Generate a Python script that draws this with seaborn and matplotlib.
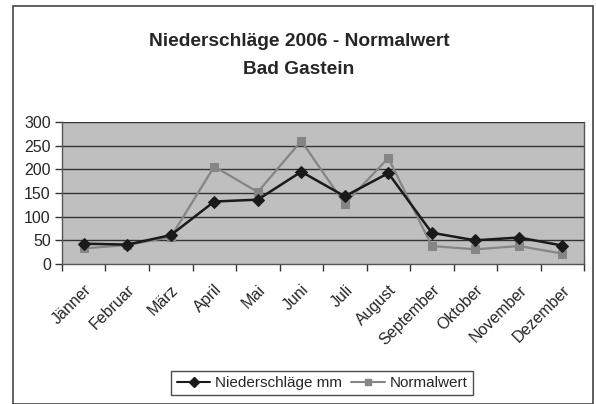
import matplotlib
matplotlib.use("Agg")
import matplotlib.pyplot as plt
import matplotlib.transforms as mtransforms
from matplotlib.patches import Rectangle
from matplotlib.lines import Line2D
import seaborn as sns
import pandas as pd
import numpy as np

months = ["Jänner", "Februar", "März", "April", "Mai", "Juni", "Juli",
          "August", "September", "Oktober", "November", "Dezember"]
niederschlaege = [43, 41, 61, 132, 136, 195, 143, 192, 66, 50, 56, 39]
normalwert = [33, 40, 57, 206, 152, 260, 127, 224, 38, 31, 38, 22]
yticks = [0, 50, 100, 150, 200, 250, 300]
title_lines = ["Niederschläge 2006 - Normalwert", "Bad Gastein"]
series_names = ["Niederschläge mm", "Normalwert"]

sns.set_theme(style="white")
plt.rcParams["font.family"] = ["Liberation Sans", "DejaVu Sans"]

df = pd.DataFrame({"Monat": months, series_names[0]: niederschlaege,
                   series_names[1]: normalwert})
df["pos"] = np.arange(len(months))

fig = plt.figure(figsize=(5.96, 4.04), dpi=100)
fig.patch.set_facecolor("white")
ax = fig.add_axes([0.104, 0.3465, 0.876, 0.3515])
ax.set_facecolor("#bfbfbf")

sns.lineplot(data=df, x="pos", y=series_names[1], ax=ax, color="#858585",
             marker="s", markersize=6, markeredgecolor="#858585", linewidth=1.6,
             label=series_names[1])
sns.lineplot(data=df, x="pos", y=series_names[0], ax=ax, color="#1a1a1a",
             marker="D", markersize=6, markeredgecolor="#1a1a1a", linewidth=1.8,
             label=series_names[0])

ax.set_ylim(0, 300)
ax.set_xlim(-0.5, len(months) - 0.5)
ax.set_yticks(yticks)
ax.set_yticklabels([str(v) for v in yticks], fontsize=11.5)
for v in yticks[1:]:
    ax.axhline(v, color="#333333", linewidth=1.0, zorder=0.5)

ax.set_xticks(np.arange(len(months)))
ax.set_xticklabels(months, rotation=45, ha="right", rotation_mode="anchor", fontsize=11.5)
offset = mtransforms.ScaledTranslation(-4 / 100, 0, fig.dpi_scale_trans)
for lbl in ax.get_xticklabels():
    lbl.set_transform(lbl.get_transform() + offset)
ax.set_xticks(np.arange(-0.5, len(months), 1.0), minor=True)
ax.tick_params(axis="x", which="major", length=0, pad=13)
ax.tick_params(axis="x", which="minor", length=5, width=1, color="#333333", direction="out", bottom=True)
ax.tick_params(axis="y", which="major", length=5, width=1, color="#333333", direction="out", left=True, pad=3)
ax.set_xlabel("")
ax.set_ylabel("")
for side in ["left", "bottom", "right", "top"]:
    ax.spines[side].set_color("#555555")
    ax.spines[side].set_linewidth(1.0)
ax.spines["top"].set_visible(False)

fig.text(299 / 596, 1 - 42 / 404, title_lines[0], ha="center", va="center",
         fontsize=13.8, fontweight="bold")
fig.text(299 / 596, 1 - 69 / 404, title_lines[1], ha="center", va="center",
         fontsize=13.8, fontweight="bold")

handles = [Line2D([], [], color="#1a1a1a", marker="D", markersize=5, linewidth=1.5),
           Line2D([], [], color="#858585", marker="s", markersize=5, linewidth=1.5)]
ax.get_legend().remove()
leg = fig.legend(handles, series_names, loc="center", bbox_to_anchor=(322 / 596, 1 - 383 / 404),
                 ncol=2, frameon=True, fancybox=False, fontsize=11, handlelength=2.2,
                 handletextpad=0.3, columnspacing=0.6, borderpad=0.35)
leg.get_frame().set_edgecolor("#222222")
leg.get_frame().set_linewidth(1.0)

fig.add_artist(Rectangle((13 / 596, 0.0), (593 - 13) / 596, 1 - 6 / 404,
                         transform=fig.transFigure, fill=False,
                         edgecolor="#444444", linewidth=1.2))

fig.savefig("out.png", dpi=100, facecolor="white")
